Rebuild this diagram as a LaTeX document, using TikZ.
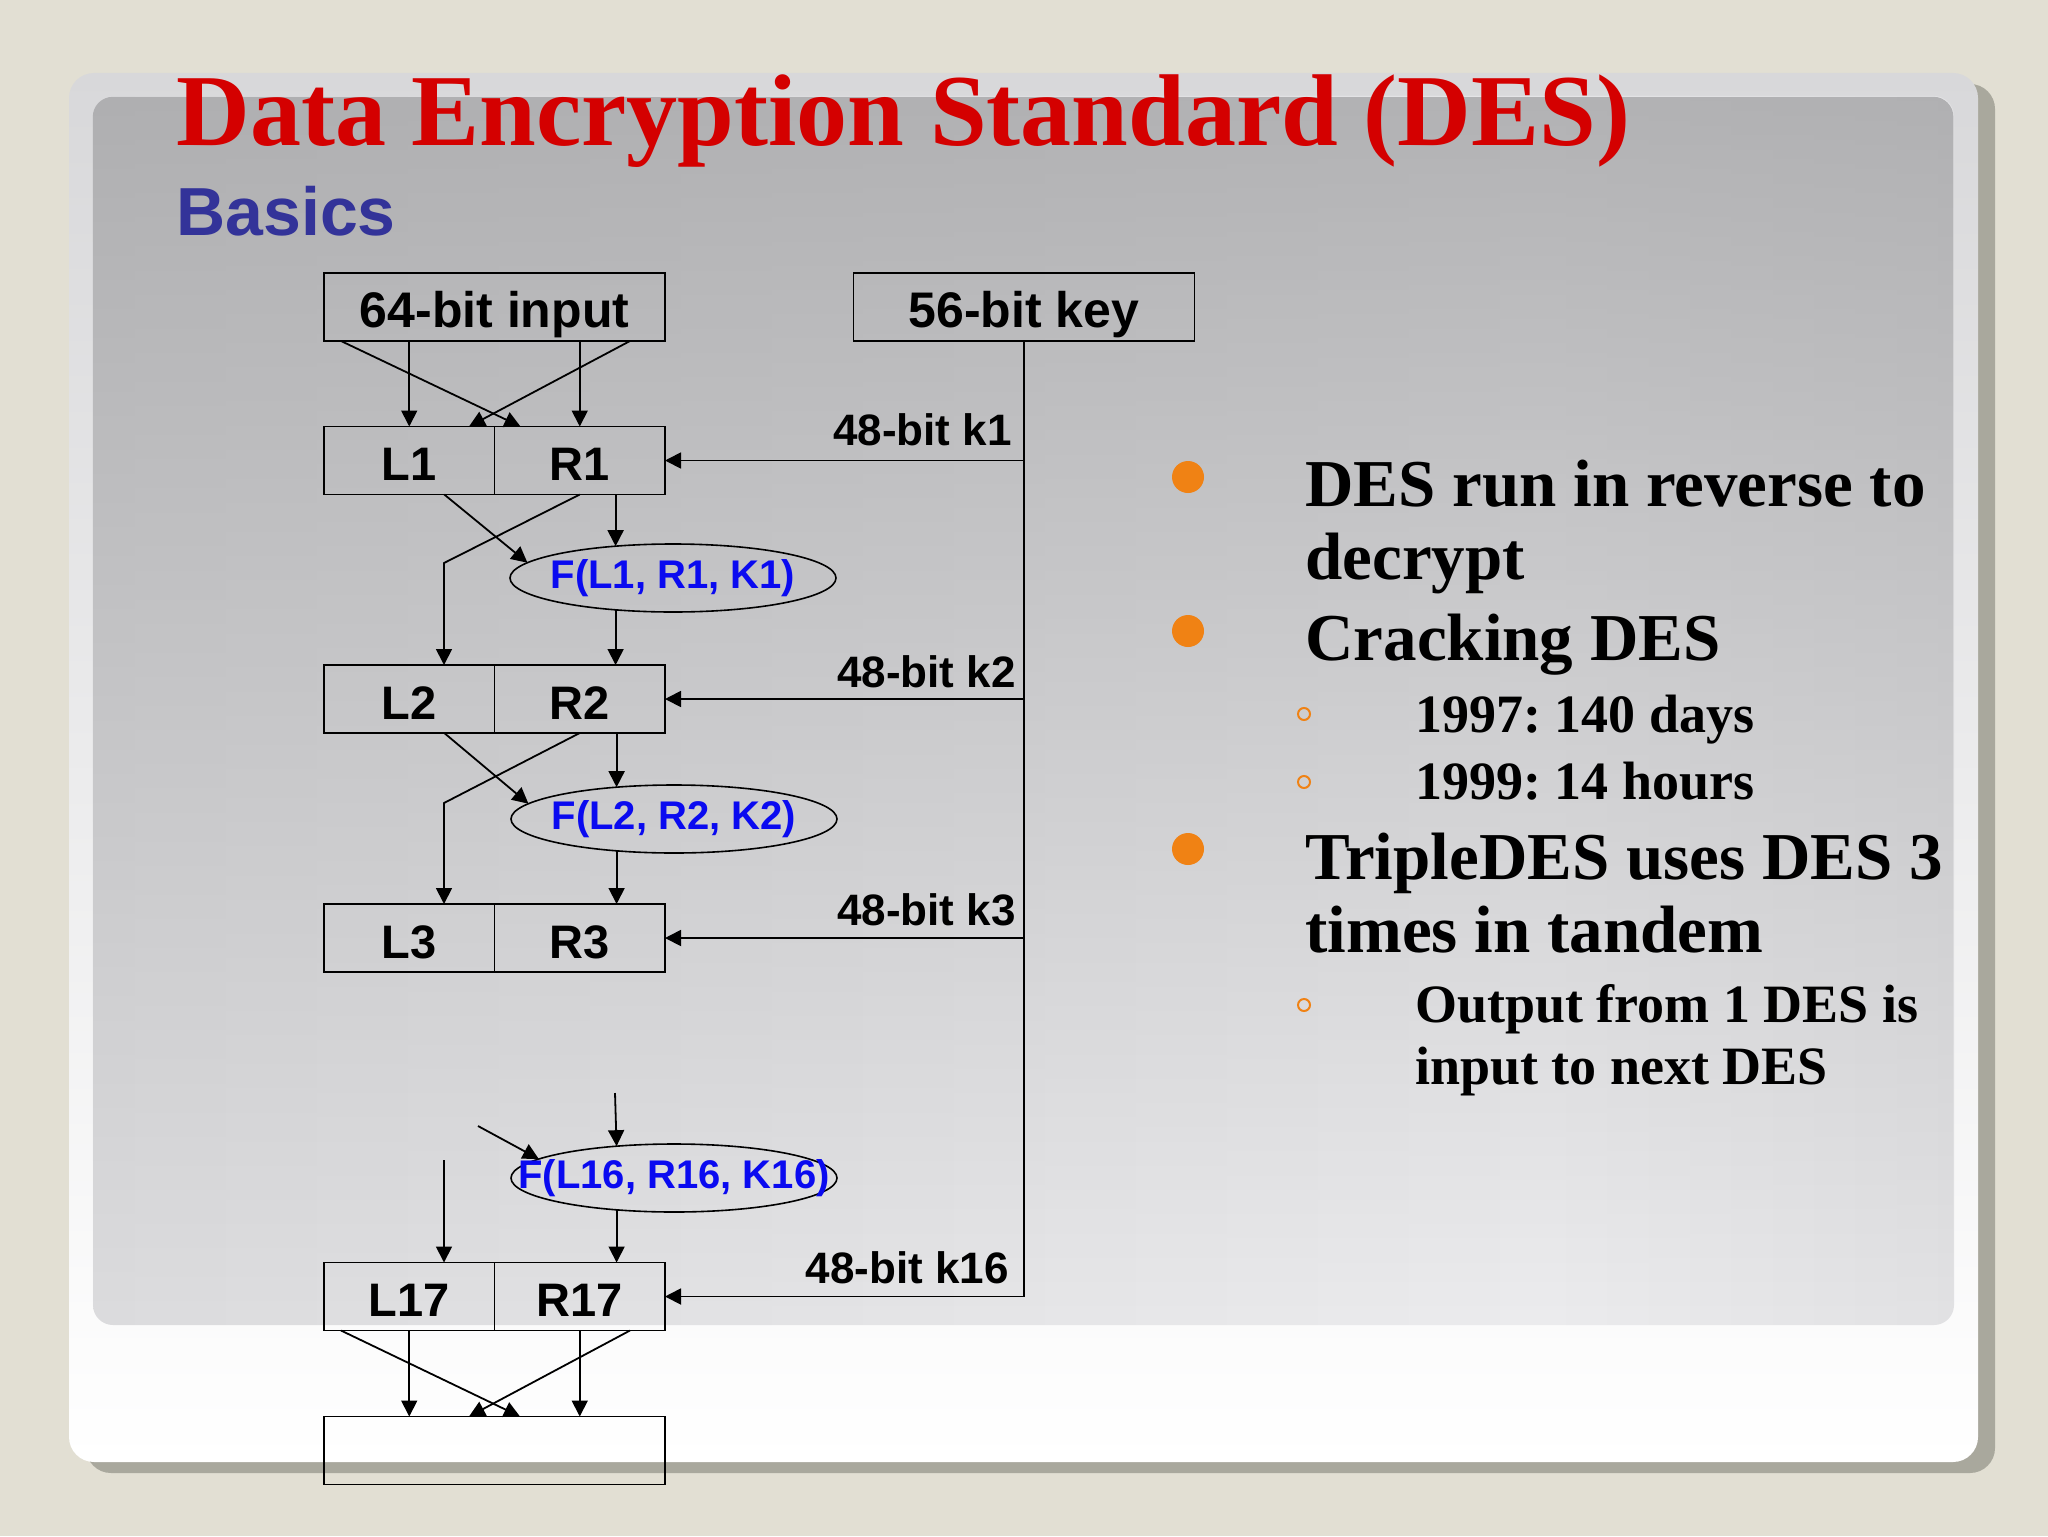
\documentclass[tikz,border=0pt]{standalone}
\usepackage{fontspec}
\setmainfont{Liberation Serif}
\newfontfamily\arialf{Liberation Sans}
\usetikzlibrary{arrows.meta,calc,shapes.geometric,fadings}
\frenchspacing
\definecolor{bgc}{RGB}{226,223,211}
\definecolor{shadc}{RGB}{169,168,157}
\definecolor{frtop}{RGB}{216,216,218}
\definecolor{pnl}{RGB}{236,236,238}
\definecolor{pnd}{RGB}{164,164,166}
\definecolor{titred}{RGB}{212,0,0}
\definecolor{basblue}{RGB}{51,51,153}
\definecolor{fblue}{RGB}{10,10,240}
\definecolor{bulor}{RGB}{240,130,20}
\pgfdeclarehorizontalshading{panelh}{100bp}{color(0bp)=(pnd); color(20bp)=(pnl!75!pnd); color(64bp)=(pnl); color(88bp)=(pnl!70!pnd); color(100bp)=(pnd)}
\tikzfading[name=topdark, top color=transparent!0, bottom color=transparent!100]
\begin{document}
\begin{tikzpicture}[x=0.5pt,y=-0.5pt,
  box/.style={draw=black, line width=0.9pt, inner sep=0pt, outer sep=0pt,
    minimum height=34pt, text=black, text height=20.4pt, text depth=0pt},
  lrbox/.style={box, minimum width=85.25pt, font=\arialf\bfseries\fontsize{23.5pt}{26pt}\selectfont},
  topbox/.style={box, minimum width=170.5pt, font=\arialf\bfseries\fontsize{25pt}{28pt}\selectfont},
  fell/.style={draw=black, line width=0.8pt, ellipse, inner sep=0pt, outer sep=0pt,
    minimum width=163pt, minimum height=34pt},
  ftext/.style={inner sep=0pt, text=fblue, font=\arialf\bfseries\fontsize{20pt}{22pt}\selectfont},
  klab/.style={anchor=base east, inner sep=0pt, font=\arialf\bfseries\fontsize{22pt}{24pt}\selectfont},
  arr/.style={line width=0.9pt, -{Triangle[length=8pt,width=8pt]}},
  ln/.style={line width=0.9pt},
  bigtxt/.style={anchor=base west, inner sep=0pt, font=\bfseries\fontsize{33.5pt}{38pt}\selectfont},
  subtxt/.style={anchor=base west, inner sep=0pt, font=\bfseries\fontsize{27pt}{32pt}\selectfont},
  bigdot/.style={circle, fill=bulor, inner sep=0pt, minimum size=16pt},
  ring/.style={circle, draw=bulor, line width=1pt, inner sep=0pt, minimum size=6pt}
]
\useasboundingbox (0,0) rectangle (2048,1536);
\fill[bgc] (0,0) rectangle (2048,1536);
% slide frame
\fill[shadc, rounded corners=12.5pt] (86,84) rectangle (1995,1473);
\shade[top color=frtop, bottom color=white, rounded corners=12.5pt] (69,73) rectangle (1978,1462);
\shade[shading=panelh, rounded corners=10pt] (93,96) rectangle (1954,1325);
\fill[pnd, fill opacity=0.8, path fading=topdark, rounded corners=10pt] (93,96) rectangle (1954,1325);
% titles
\node[anchor=base west, inner sep=0pt, text=titred, font=\bfseries\fontsize{51pt}{55pt}\selectfont] (title) at (176,145) {Data Encryption Standard (DES)};
\node[anchor=base west, inner sep=0pt, text=basblue, font=\arialf\bfseries\fontsize{34pt}{38pt}\selectfont] (basics) at (176,235) {Basics};
% boxes
\node[topbox] (in) at (494.5,307) {64-bit input};
\node[topbox] (key) at (1024,307) {56-bit key};
\node[lrbox] (L1) at (409.25,460.5) {L1};
\node[lrbox] (R1) at (579.75,460.5) {R1};
\node[lrbox] (L2) at (409.25,699) {L2};
\node[lrbox] (R2) at (579.75,699) {R2};
\node[lrbox] (L3) at (409.25,938) {L3};
\node[lrbox] (R3) at (579.75,938) {R3};
\node[lrbox] (L17) at (409.25,1296.5) {L17};
\node[lrbox] (R17) at (579.75,1296.5) {R17};
\node[topbox] (out) at (494.5,1450.5) {};
% F ellipses
\node[fell] (F1) at (673,578) {};
\node[ftext] (F1t) at (F1) {F(L1, R1, K1)};
\node[fell] (F2) at (674,819) {};
\node[ftext] (F2t) at (F2) {F(L2, R2, K2)};
\node[fell] (F3) at (674,1178) {};
\node[ftext] (F3t) at (F3) {F(L16, R16, K16)};
% input to L1/R1
\draw[arr] (L1.north |- in.south) -- (L1.north);
\draw[arr] (R1.north |- in.south) -- (R1.north);
\draw[arr] ($(in.south west)+(17,0)$) -- ($(R1.north west)+(26,0)$);
\draw[arr] ($(in.south east)+(-35,0)$) -- ($(L1.north east)+(-25.5,0)$);
% key line
\coordinate (kend) at (key.south |- R17.east);
\draw[ln] (key.south) -- (kend);
\draw[arr] (key.south |- R1.east) -- (R1.east);
\draw[arr] (key.south |- R2.east) -- (R2.east);
\draw[arr] (key.south |- R3.east) -- (R3.east);
\draw[arr] (kend) -- (R17.east);
\node[klab] (k1) at (1012,445) {48-bit k1};
\node[klab] (k2) at (1016,687) {48-bit k2};
\node[klab] (k3) at (1016,925) {48-bit k3};
\node[klab] (k16) at (1009,1283) {48-bit k16};
% round 1
\coordinate (b1) at (444,563);
\draw[arr] ($(L1.south)+(35,0)$) -- (F1.174);
\draw[arr] (R1.south) -- (b1) -- (b1 |- L2.north);
\draw[arr] (F1.151 |- R1.south) -- (F1.151);
\draw[arr] (F1.209) -- (F1.209 |- R2.north);
% round 2
\coordinate (b2) at (444,803);
\draw[arr] ($(L2.south)+(35,0)$) -- (F2.174);
\draw[arr] (R2.south) -- (b2) -- (b2 |- L3.north);
\draw[arr] (F2.151 |- R2.south) -- (F2.151);
\draw[arr] (F2.209) -- (F2.209 |- R3.north);
% round 16
\coordinate (t16) at (615,1093);
\coordinate (d16) at (478,1126);
\coordinate (v16) at (444,1160);
\draw[arr] (t16) -- (F3.151);
\draw[arr] (d16) -- (F3.172);
\draw[arr] (v16) -- (v16 |- L17.north);
\draw[arr] (F3.209) -- (F3.209 |- R17.north);
% output swap
\draw[arr] (L17.south) -- (L17.south |- out.north);
\draw[arr] (R17.south) -- (R17.south |- out.north);
\draw[arr] ($(L17.south west)+(17,0)$) -- ($(out.north west)+(196,0)$);
\draw[arr] ($(R17.south east)+(-35,0)$) -- ($(out.north west)+(145,0)$);
% bullets
\node[bigdot] (d1) at (1188,477) {};
\node[bigdot] (d2) at (1188,631) {};
\node[bigdot] (d3) at (1188,849) {};
\node[ring] (r1) at (1304,714) {};
\node[ring] (r2) at (1304,782) {};
\node[ring] (r3) at (1304,1005) {};
\node[bigtxt] (t1) at (1305,506) {DES run in reverse to};
\node[bigtxt] (t1b) at (1305,579) {decrypt};
\node[bigtxt] (t2) at (1305,660) {Cracking DES};
\node[subtxt] (s1) at (1415,732) {1997: 140 days};
\node[subtxt] (s2) at (1415,799) {1999: 14 hours};
\node[bigtxt] (t3) at (1305,879) {TripleDES uses DES 3};
\node[bigtxt] (t3b) at (1305,952) {times in tandem};
\node[subtxt] (s3) at (1415,1022) {Output from 1 DES is};
\node[subtxt] (s3b) at (1415,1084) {input to next DES};
\end{tikzpicture}
\end{document}
